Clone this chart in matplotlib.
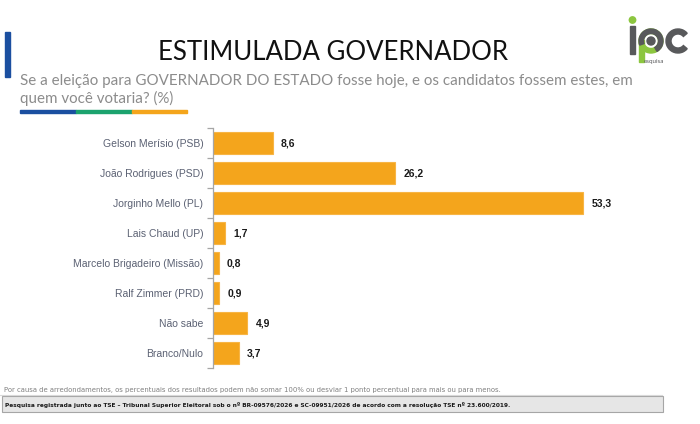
import matplotlib
matplotlib.use("Agg")
import matplotlib.pyplot as plt
from matplotlib.patches import Rectangle, Circle, Wedge

categories = ["Gelson Merísio (PSB)", "João Rodrigues (PSD)", "Jorginho Mello (PL)",
              "Lais Chaud (UP)", "Marcelo Brigadeiro (Missão)", "Ralf Zimmer (PRD)",
              "Não sabe", "Branco/Nulo"]
values = [8.6, 26.2, 53.3, 1.7, 0.8, 0.9, 4.9, 3.7]
value_labels = ["8,6", "26,2", "53,3", "1,7", "0,8", "0,9", "4,9", "3,7"]

title = "ESTIMULADA GOVERNADOR"
subtitle = ("Se a eleição para GOVERNADOR DO ESTADO fosse hoje, e os candidatos fossem estes, em\n"
            "quem você votaria? (%)")
note = ("Por causa de arredondamentos, os percentuais dos resultados podem não somar 100% "
        "ou desviar 1 ponto percentual para mais ou para menos.")
registro = ("Pesquisa registrada junto ao TSE – Tribunal Superior Eleitoral sob o nº BR-09576/2026 e "
            "SC-09951/2026 de acordo com a resolução TSE nº 23.600/2019.")

W, H = 700, 424
fig = plt.figure(figsize=(W / 100, H / 100), dpi=100)
fig.patch.set_facecolor("white")

def fx(px):
    return px / W

def fy(py):
    return 1 - py / H

# main axes
ax_left, ax_right, ax_top, ax_bot = 213, 640, 128, 368
ax = fig.add_axes([fx(ax_left), fy(ax_bot), fx(ax_right - ax_left), (ax_bot - ax_top) / H])
n = len(categories)
ypos = list(range(n))
ax.barh(ypos, values, height=0.72, color="#f4a51c", edgecolor="#f7b545", linewidth=0.8)
ax.set_ylim(n - 0.5, -0.5)
ax.set_xlim(0, (ax_right - ax_left) / 6.95)
for s in ["top", "right", "bottom"]:
    ax.spines[s].set_visible(False)
ax.spines["left"].set_color("#a6a6a6")
ax.spines["left"].set_linewidth(0.9)
ax.set_xticks([])
ax.set_yticks(ypos)
ax.set_yticklabels(categories, fontsize=7.5, color="#5b6173", family="Liberation Sans")
ax.tick_params(axis="y", which="major", length=0, pad=7)
ax.set_yticks([i - 0.5 for i in range(n + 1)], minor=True)
ax.tick_params(axis="y", which="minor", length=4, color="#a6a6a6", width=0.9)
for y, v, lab in zip(ypos, values, value_labels):
    ax.annotate(lab, (v, y), xytext=(6, 0), textcoords="offset points",
                va="center", ha="left", fontsize=7.5, fontweight="bold",
                color="#1a1a1a", family="Liberation Sans")

# left blue accent bar
fig.patches.append(Rectangle((fx(4.5), fy(77)), fx(5.5), 45 / H, transform=fig.transFigure,
                             color="#1b4fa0", zorder=5))

# title and subtitle
fig.text(fx(333), fy(52), title, ha="center", va="center", fontsize=18.5,
         family="Lato", fontweight="normal", color="#111111")
fig.text(fx(20), fy(90), subtitle, ha="left", va="center", fontsize=10.9,
         family="Lato", color="#8c8c8c", linespacing=1.3)

# tricolour underline
for x0, x1, c in [(20, 76, "#1b4fa0"), (76, 132, "#1ca36e"), (132, 187, "#f4a51c")]:
    fig.patches.append(Rectangle((fx(x0), fy(113)), fx(x1 - x0), 3 / H,
                                 transform=fig.transFigure, color=c, zorder=5))

# logo (approximation)
lax = fig.add_axes([fx(620), fy(72), fx(75), 62 / H])
lax.set_xlim(0, 75)
lax.set_ylim(0, 62)
lax.axis("off")
lax.add_patch(Rectangle((10, 18), 5, 28, color="#58595b"))
lax.add_patch(Circle((12.5, 52), 3.2, color="#8cc63f"))
lax.add_patch(Rectangle((19, 10), 4.5, 22, color="#8cc63f"))
lax.add_patch(Wedge((31, 31), 12, 0, 360, width=4.5, color="#8cc63f"))
lax.add_patch(Wedge((31, 31), 12, -60, 200, width=4.5, color="#58595b"))
lax.add_patch(Circle((31, 31), 4, color="#58595b"))
lax.add_patch(Wedge((58, 31), 12, 40, 320, width=5, color="#58595b"))
lax.text(24, 11, "esquisa", fontsize=4.5, color="#58595b", va="center", ha="left",
         family="Lato")

# footnote
fig.text(fx(4), fy(390), note, ha="left", va="center", fontsize=4.95,
         family="Liberation Sans Narrow", color="#808080")
fig.lines.append(plt.Line2D([fx(0), fx(662)], [fy(395), fy(395)], transform=fig.transFigure,
                            color="#d9d9d9", linewidth=0.8))
fig.patches.append(Rectangle((fx(2), fy(411.5)), fx(661), 15.5 / H, transform=fig.transFigure,
                             facecolor="#e6e6e6", edgecolor="#a6a6a6", linewidth=0.8))
fig.text(fx(5), fy(404.5), registro, ha="left", va="center", fontsize=4.25,
         family="Liberation Sans Narrow", color="#1a1a1a", fontweight="bold")

fig.savefig("out.png", dpi=100, facecolor="white")
